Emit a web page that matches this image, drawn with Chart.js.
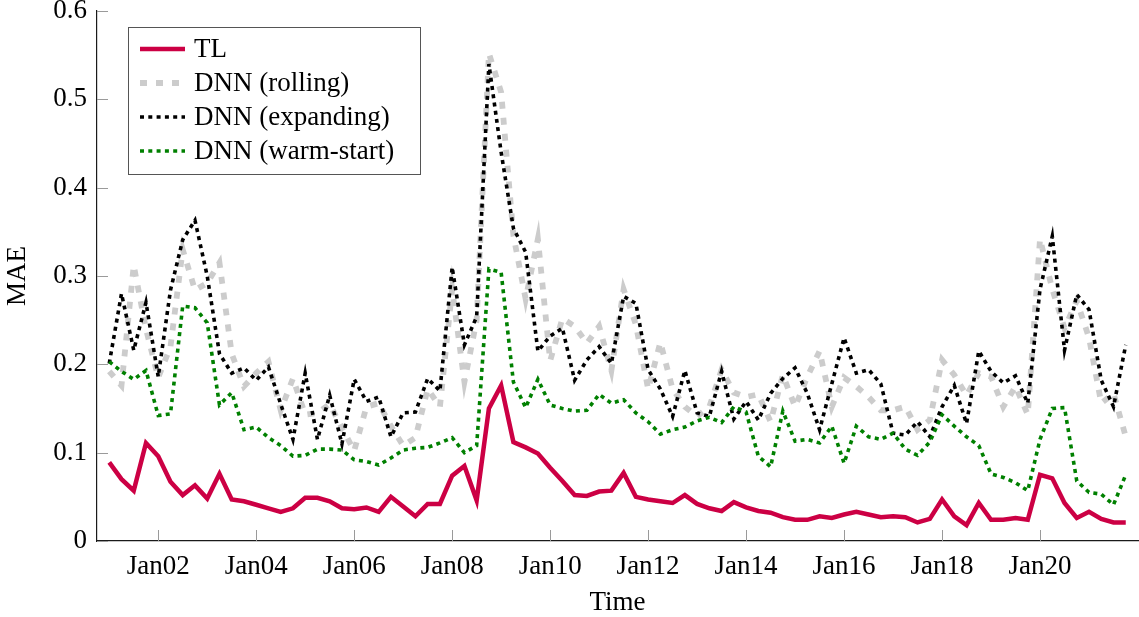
<!DOCTYPE html>
<html>
<head>
<meta charset="utf-8">
<title>MAE over time</title>
<script src="https://cdn.jsdelivr.net/npm/chart.js@4.4.0/dist/chart.umd.min.js"></script>
<style>
  html, body { margin: 0; padding: 0; background: #ffffff; }
  #wrap { width: 1139px; height: 617px; }
</style>
</head>
<body>
<div id="wrap"><canvas id="chart" width="1139" height="617"></canvas></div>
<script>
// Quarterly evaluation periods, first one in Q1 2001
const firstYear = 2001;
const periodsPerYear = 4;

// x-axis ticks (January of every second year)
const xTickYears = [2002, 2004, 2006, 2008, 2010, 2012, 2014, 2016, 2018, 2020];
const xTickLabels = ['Jan02', 'Jan04', 'Jan06', 'Jan08', 'Jan10', 'Jan12', 'Jan14', 'Jan16', 'Jan18', 'Jan20'];

// y-axis ticks
const yTickValues = [0, 0.1, 0.2, 0.3, 0.4, 0.5, 0.6];
const yTickLabels = ['0', '0.1', '0.2', '0.3', '0.4', '0.5', '0.6'];

// Mean absolute error per quarter
const maeTL = [
  0.089, 0.070, 0.057, 0.111, 0.096, 0.067, 0.052, 0.063, 0.048, 0.076,
  0.047, 0.045, 0.041, 0.037, 0.033, 0.037, 0.049, 0.049, 0.045, 0.037,
  0.036, 0.038, 0.033, 0.050, 0.039, 0.028, 0.042, 0.042, 0.074, 0.085,
  0.046, 0.150, 0.176, 0.112, 0.106, 0.099, 0.083, 0.068, 0.052, 0.051,
  0.056, 0.057, 0.077, 0.050, 0.047, 0.045, 0.043, 0.052, 0.042, 0.037,
  0.034, 0.044, 0.038, 0.034, 0.032, 0.027, 0.024, 0.024, 0.028, 0.026,
  0.030, 0.033, 0.030, 0.027, 0.028, 0.027, 0.021, 0.025, 0.047, 0.028,
  0.018, 0.043, 0.024, 0.024, 0.026, 0.024, 0.075, 0.071, 0.043, 0.026,
  0.033, 0.025, 0.021, 0.021
];
const maeRolling = [
  0.192, 0.176, 0.312, 0.240, 0.185, 0.220, 0.330, 0.284, 0.292, 0.315,
  0.212, 0.175, 0.190, 0.203, 0.148, 0.184, 0.143, 0.145, 0.155, 0.128,
  0.102, 0.152, 0.156, 0.130, 0.108, 0.117, 0.172, 0.152, 0.285, 0.180,
  0.250, 0.552, 0.508, 0.346, 0.274, 0.342, 0.204, 0.252, 0.243, 0.224,
  0.243, 0.193, 0.285, 0.245, 0.172, 0.225, 0.172, 0.152, 0.141, 0.152,
  0.194, 0.168, 0.163, 0.166, 0.135, 0.188, 0.152, 0.186, 0.215, 0.152,
  0.185, 0.175, 0.163, 0.148, 0.148, 0.152, 0.126, 0.137, 0.205, 0.188,
  0.165, 0.190, 0.186, 0.152, 0.175, 0.143, 0.342, 0.285, 0.241, 0.272,
  0.230, 0.156, 0.167, 0.118
];
const maeExpanding = [
  0.201, 0.280, 0.216, 0.270, 0.186, 0.284, 0.341, 0.363, 0.300, 0.212,
  0.190, 0.196, 0.182, 0.197, 0.155, 0.115, 0.190, 0.115, 0.165, 0.110,
  0.183, 0.158, 0.163, 0.118, 0.145, 0.146, 0.184, 0.170, 0.310, 0.222,
  0.254, 0.540, 0.440, 0.354, 0.327, 0.215, 0.232, 0.241, 0.182, 0.205,
  0.220, 0.201, 0.277, 0.269, 0.194, 0.172, 0.141, 0.193, 0.145, 0.141,
  0.192, 0.138, 0.158, 0.137, 0.167, 0.184, 0.196, 0.167, 0.126, 0.178,
  0.230, 0.190, 0.194, 0.178, 0.122, 0.120, 0.135, 0.118, 0.152, 0.176,
  0.133, 0.215, 0.192, 0.179, 0.187, 0.156, 0.285, 0.345, 0.216, 0.279,
  0.262, 0.182, 0.152, 0.222
];
const maeWarmStart = [
  0.203, 0.192, 0.183, 0.193, 0.142, 0.144, 0.266, 0.264, 0.247, 0.154,
  0.168, 0.126, 0.129, 0.117, 0.108, 0.096, 0.097, 0.104, 0.104, 0.103,
  0.092, 0.090, 0.086, 0.094, 0.103, 0.105, 0.106, 0.111, 0.117, 0.100,
  0.108, 0.308, 0.304, 0.180, 0.151, 0.183, 0.154, 0.150, 0.147, 0.148,
  0.166, 0.156, 0.160, 0.145, 0.135, 0.121, 0.126, 0.129, 0.136, 0.140,
  0.134, 0.152, 0.146, 0.096, 0.084, 0.147, 0.113, 0.115, 0.111, 0.130,
  0.088, 0.130, 0.118, 0.115, 0.122, 0.104, 0.097, 0.112, 0.143, 0.130,
  0.118, 0.108, 0.076, 0.072, 0.066, 0.057, 0.115, 0.150, 0.151, 0.068,
  0.055, 0.053, 0.041, 0.075
];

// Pair each value with its quarter (as a fractional year)
const toPoints = (values) => values.map((v, i) => ({ x: firstYear + i / periodsPerYear, y: v }));

const FONT = "'Liberation Serif', 'Times New Roman', serif";
const FONT_SIZE = 27;
Chart.defaults.font.family = FONT;
Chart.defaults.font.size = FONT_SIZE;
Chart.defaults.color = '#000000';

// Short inward tick marks on both axes
const inwardTicks = {
  id: 'inwardTicks',
  beforeDatasetsDraw(chart) {
    const { ctx, chartArea, scales } = chart;
    ctx.save();
    ctx.strokeStyle = '#9a9a9a';
    ctx.lineWidth = 1;
    scales.x.ticks.forEach(t => {
      const x = Math.round(scales.x.getPixelForValue(t.value)) + 0.5;
      ctx.beginPath();
      ctx.moveTo(x, chartArea.bottom);
      ctx.lineTo(x, chartArea.bottom - 11);
      ctx.stroke();
    });
    scales.y.ticks.forEach(t => {
      const y = Math.round(scales.y.getPixelForValue(t.value)) + 0.5;
      ctx.beginPath();
      ctx.moveTo(chartArea.left, y);
      ctx.lineTo(chartArea.left + 11, y);
      ctx.stroke();
    });
    ctx.restore();
  }
};

// Boxed legend in the upper-left corner of the plot
const boxedLegend = {
  id: 'boxedLegend',
  afterDraw(chart) {
    const { ctx, chartArea } = chart;
    const left = chartArea.left + 31;
    const top = chartArea.top + 16;
    const width = 292;
    const height = 147;
    ctx.save();
    ctx.fillStyle = '#ffffff';
    ctx.fillRect(left, top, width, height);
    ctx.strokeStyle = '#555555';
    ctx.lineWidth = 1;
    ctx.strokeRect(left + 0.5, top + 0.5, width, height);
    ctx.font = FONT_SIZE + 'px ' + FONT;
    ctx.textBaseline = 'middle';
    ctx.textAlign = 'left';
    chart.data.datasets.forEach((ds, k) => {
      const y = top + 22 + k * 34;
      ctx.beginPath();
      ctx.strokeStyle = ds.borderColor;
      ctx.lineWidth = ds.borderWidth;
      ctx.setLineDash(ds.borderDash || []);
      ctx.lineCap = 'butt';
      ctx.moveTo(left + 12, y);
      ctx.lineTo(left + 57, y);
      ctx.stroke();
      ctx.setLineDash([]);
      ctx.fillStyle = '#000000';
      ctx.fillText(ds.label, left + 66, y + 1);
    });
    ctx.restore();
  }
};

new Chart(document.getElementById('chart'), {
  type: 'line',
  data: {
    datasets: [
      { label: 'TL', data: toPoints(maeTL), borderColor: '#cc0044', borderWidth: 4.5, order: 4 },
      { label: 'DNN (rolling)', data: toPoints(maeRolling), borderColor: '#cccccc', borderWidth: 5.8, borderDash: [7, 9], order: 3 },
      { label: 'DNN (expanding)', data: toPoints(maeExpanding), borderColor: '#000000', borderWidth: 3.6, borderDash: [4, 4.3], order: 2 },
      { label: 'DNN (warm-start)', data: toPoints(maeWarmStart), borderColor: '#008000', borderWidth: 3.6, borderDash: [4, 4.3], order: 1 }
    ]
  },
  options: {
    responsive: false,
    animation: false,
    layout: { padding: { left: 0, right: 1, top: 11, bottom: 0 } },
    elements: {
      point: { radius: 0 },
      line: { tension: 0, fill: false, borderJoinStyle: 'miter', borderCapStyle: 'butt' }
    },
    plugins: { legend: { display: false }, tooltip: { enabled: false } },
    scales: {
      x: {
        type: 'linear',
        min: 2000.75,
        max: 2022,
        afterBuildTicks: (scale) => { scale.ticks = xTickYears.map(v => ({ value: v })); },
        afterFit: (scale) => { scale.height = 76; scale.paddingLeft = 0; scale.paddingRight = 0; },
        grid: { display: false, drawTicks: false },
        border: { display: true, color: '#1a1a1a', width: 1.2 },
        ticks: {
          maxRotation: 0,
          autoSkip: false,
          padding: 10,
          callback: (value) => {
            const k = xTickYears.indexOf(value);
            return k >= 0 ? xTickLabels[k] : '';
          }
        },
        title: { display: true, text: 'Time', padding: { top: 0, bottom: -2 } }
      },
      y: {
        min: 0,
        max: 0.6,
        afterBuildTicks: (scale) => { scale.ticks = yTickValues.map(v => ({ value: v })); },
        afterFit: (scale) => { scale.width = 97; scale.paddingTop = 0; scale.paddingBottom = 0; },
        grid: { display: false, drawTicks: false },
        border: { display: true, color: '#1a1a1a', width: 1.2 },
        ticks: {
          padding: 10,
          callback: (value) => {
            const k = yTickValues.findIndex(v => Math.abs(v - value) < 1e-9);
            return k >= 0 ? yTickLabels[k] : '';
          }
        },
        title: { display: true, text: 'MAE', padding: { top: 2, bottom: 0 } }
      }
    }
  },
  plugins: [inwardTicks, boxedLegend]
});
</script>
</body>
</html>
